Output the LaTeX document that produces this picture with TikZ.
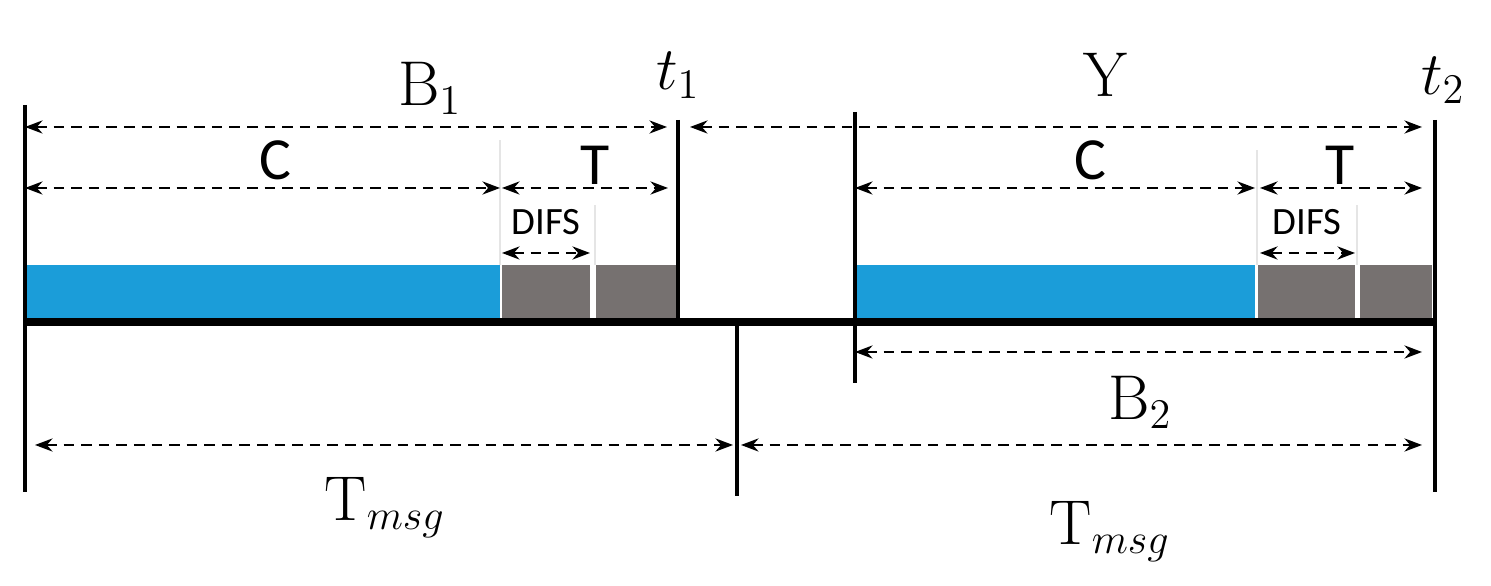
\documentclass[tikz,border=0pt]{standalone}
\usepackage{fontspec}
\newfontfamily\sans{Carlito}
\usetikzlibrary{arrows.meta}
\definecolor{barblue}{RGB}{27,157,217}
\definecolor{bargray}{RGB}{118,113,112}
\tikzset{
  dim/.style={densely dashed,line width=0.55pt,{Stealth[length=5pt]}-{Stealth[length=5pt]}},
  tick/.style={line width=1pt},
  lbl/.style={font=\sans\fontsize{17}{17}\selectfont},
  mlbl/.style={font=\fontsize{18}{18}\selectfont}
}
\begin{document}
\begin{tikzpicture}[x=0.01cm,y=-0.01cm]
\useasboundingbox (0,0) rectangle (1491,586);
%slots
\fill[barblue] (25,265) rectangle (500,318);
\fill[bargray] (502,265) rectangle (590,318);
\fill[bargray] (596,265) rectangle (678,318);
\fill[barblue] (855,265) rectangle (1255,318);
\fill[bargray] (1258,265) rectangle (1355,318);
\fill[bargray] (1360,265) rectangle (1432,318);
\draw[gray!20,line width=0.5pt] (500,140) -- (500,265) (595,205) -- (595,265);
\draw[gray!20,line width=0.5pt] (1257,150) -- (1257,265) (1357,205) -- (1357,265);
%axis and ticks
\draw[line width=2pt] (25,322) -- (1435,322);
\coordinate (a0) at (25,105);   \coordinate (a1) at (25,492);
\coordinate (b0) at (678,120);  \coordinate (b1) at (678,320);
\coordinate (c0) at (737,322);  \coordinate (c1) at (737,496);
\coordinate (d0) at (855,112);  \coordinate (d1) at (855,383);
\coordinate (e0) at (1435,120); \coordinate (e1) at (1435,492);
\foreach \p in {a,b,c,d,e} \draw[tick] (\p0) -- (\p1);
%dimension arrows
\draw[dim] (25,127) -- (667,127);
\draw[dim] (690,127) -- (1422,127);
\draw[dim] (25,188) -- (500,188);
\draw[dim] (502,188) -- (668,188);
\draw[dim] (855,188) -- (1255,188);
\draw[dim] (1260,188) -- (1422,188);
\draw[dim] (502,253) -- (590,253);
\draw[dim] (1260,253) -- (1355,253);
\draw[dim] (855,352) -- (1422,352);
\draw[dim] (35,445) -- (733,445);
\draw[dim] (741,445) -- (1422,445);
%labels
\node[mlbl] (lB1) at (430,88) {B$_1$};
\node[mlbl] (lt1) at (678,75) {$t_1$};
\node[mlbl] (lY) at (1105,75) {Y};
\node[mlbl] (lt2) at (1443,80) {$t_2$};
\node[lbl] (lC1) at (275,160) {C};
\node[lbl] (lT1) at (595,165) {T};
\node[lbl] (lC2) at (1090,160) {C};
\node[lbl] (lT2) at (1340,165) {T};
\node[font=\sans\fontsize{11}{11}\selectfont] (lD1) at (546,222) {DIFS};
\node[font=\sans\fontsize{11}{11}\selectfont] (lD2) at (1307,222) {DIFS};
\node[mlbl] (lB2) at (1140,402) {B$_2$};
\node[mlbl] (lM1) at (385,508) {T$_{msg}$};
\node[mlbl] (lM2) at (1110,532) {T$_{msg}$};
\end{tikzpicture}
\end{document}
